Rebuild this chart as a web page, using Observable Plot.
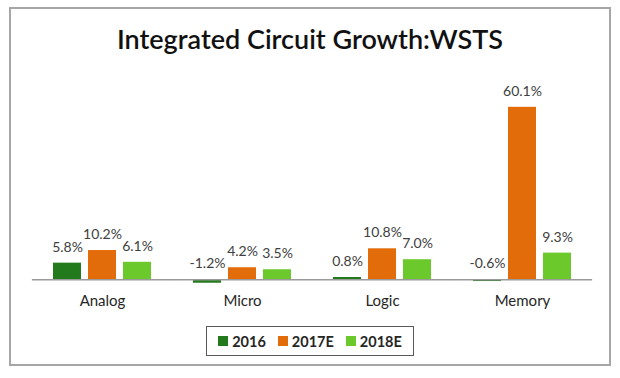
<!DOCTYPE html>
<html>
<head>
<meta charset="utf-8">
<script src="https://cdn.jsdelivr.net/npm/d3@7"></script>
<script src="https://cdn.jsdelivr.net/npm/@observablehq/plot@0.6"></script>
<style>
  html, body { margin: 0; padding: 0; background: #fff; }
  body { width: 620px; height: 378px; position: relative; overflow: hidden; font-family: Lato, "Open Sans", sans-serif; }
  #frame { position: absolute; left: 9px; top: 7px; width: 598px; height: 355px; border: 2px solid #a6a6a6; box-sizing: content-box; }
  #title { position: absolute; left: 0; width: 620px; top: 22px; text-align: center; font-size: 27px; color: #111; font-weight: 600; }
  #chart { position: absolute; left: 0; top: 0; }
  #legend { position: absolute; left: 206px; top: 326px; width: 206px; height: 28px; border: 1.5px solid #595959;
            display: flex; align-items: center; justify-content: center; gap: 12px; font-size: 14.5px; font-weight: 700; color: #262626; }
  .item { display: flex; align-items: center; gap: 4px; }
  .sw { width: 10px; height: 10px; display: inline-block; }
</style>
</head>
<body>
<div id="frame"></div>
<div id="title">Integrated Circuit Growth:WSTS</div>
<div id="chart"></div>
<div id="legend"></div>
<script>
const categories = ["Analog", "Micro", "Logic", "Memory"];
const seriesNames = ["2016", "2017E", "2018E"];
const values2016  = [5.8, -1.2, 0.8, -0.6];
const values2017E = [10.2, 4.2, 10.8, 60.1];
const values2018E = [6.1, 3.5, 7.0, 9.3];
const colors = ["#237a1c", "#e36c0a", "#6cc92c"];

const seriesValues = [values2016, values2017E, values2018E];
const data = [];
categories.forEach((c, i) => {
  seriesNames.forEach((s, j) => data.push({cat: c, series: s, v: seriesValues[j][i]}));
});

const W = 620, H = 320;
const mL = 30, mR = 27;
const step = (W - mL - mR) / 4; // fx band step (paddingInner 0.3, paddingOuter 0.15)
const halfGap = step * 0.3 / 2;

const chart = Plot.plot({
  width: W,
  height: H,
  marginLeft: mL,
  marginRight: mR,
  marginTop: 92.75,
  marginBottom: 26.35,
  style: {fontFamily: "Lato, 'Open Sans', sans-serif", background: "transparent"},
  fx: {domain: categories, paddingInner: 0.3, paddingOuter: 0.15, label: null, axis: null},
  x: {domain: seriesNames, paddingInner: 0.2, paddingOuter: 0, axis: null},
  y: {domain: [-5, 65], axis: null},
  color: {domain: seriesNames, range: colors},
  marks: [
    Plot.barY(data, {fx: "cat", x: "series", y: "v", fill: "series"}),
    Plot.ruleY([0], {stroke: "#9a9a9a", strokeWidth: 1.5, insetLeft: -halfGap, insetRight: -halfGap}),
    Plot.text(data, {fx: "cat", x: "series", y: d => Math.max(d.v, 0), text: d => d.v.toFixed(1) + "%",
      dy: -16, fontSize: 14, fill: "#404040"}),
    Plot.axisFx({anchor: "bottom", tickSize: 0, tickPadding: 1, fontSize: 15, fill: "#262626", label: null})
  ]
});
document.getElementById("chart").appendChild(chart);

const legend = document.getElementById("legend");
seriesNames.forEach((s, j) => {
  const item = document.createElement("span");
  item.className = "item";
  const sw = document.createElement("span");
  sw.className = "sw";
  sw.style.background = colors[j];
  const t = document.createElement("span");
  t.textContent = s;
  item.appendChild(sw); item.appendChild(t);
  legend.appendChild(item);
});
</script>
</body>
</html>
